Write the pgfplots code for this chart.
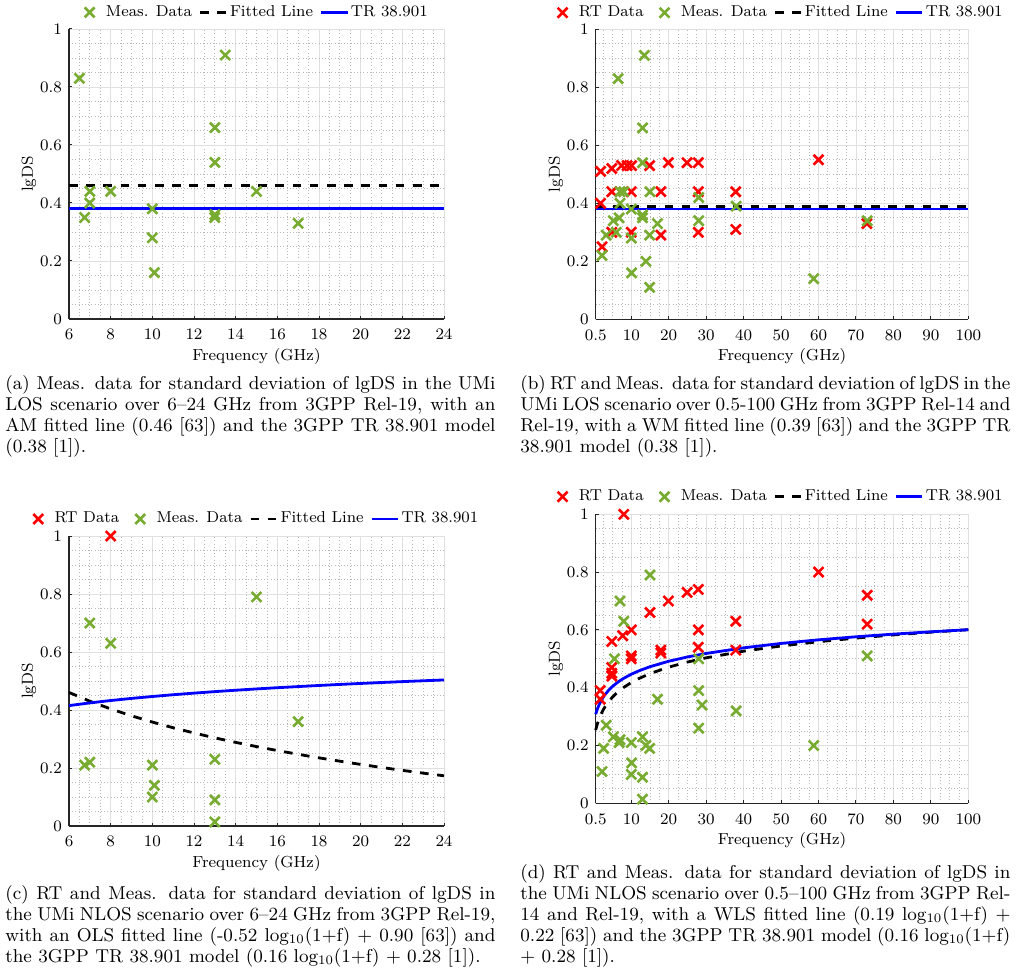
\documentclass[border=0pt]{standalone}
\usepackage{pgfplots}
\pgfplotsset{compat=1.18}

\definecolor{mgreen}{rgb}{0.466,0.674,0.188}
\definecolor{axgray}{rgb}{0.15,0.15,0.15}

\pgfplotsset{
  lgds/.style={
    scale only axis,
    anchor=south west,
    clip=false,
    ymin=0, ymax=1,
    ytick={0,0.2,0.4,0.6,0.8,1},
    minor y tick num=3,
    axis x line*=bottom, axis y line*=left,
    axis line style={axgray, line width=0.7pt, -},
    tick align=inside,
    major tick length=1.5pt,
    minor tick length=0pt,
    tick style={axgray, line width=0.5pt},
    grid=both,
    major grid style={line width=0.4pt, black!12},
    minor grid style={line width=0.4pt, black!28, dash pattern=on 0.4pt off 1.2pt},
    ticklabel style={font=\fontsize{8}{9}\selectfont},
    xticklabel style={yshift=-1.8pt},
    xlabel={Frequency (GHz)},
    ylabel={lgDS},
    every axis x label/.style={at={(axis description cs:0.5,-0.128)}, anchor=center, font=\fontsize{8}{9}\selectfont},
    every axis y label/.style={at={(axis description cs:-0.107,0.5)}, rotate=90, anchor=center, font=\fontsize{8}{9}\selectfont},
    legend style={draw=none, fill=none, legend columns=-1, at={(0.5,1)}, anchor=center,
      font=\fontsize{7.9}{9}\selectfont, inner sep=0pt, outer sep=0pt,
      nodes={inner xsep=1pt, inner ysep=0.5pt},
      /tikz/every even column/.append style={column sep=2.3pt}},
  },
  narrowf/.style={width=187.5pt, height=145pt, xmin=6, xmax=24,
    xtick={6,8,10,12,14,16,18,20,22,24}, minor x tick num=3},
  widef/.style={width=186.3pt, height=145pt, xmin=0.5, xmax=100,
    xtick={0.5,10,20,30,40,50,60,70,80,90,100},
    minor xtick={2.5,5,7.5,12.5,15,17.5,22.5,25,27.5,32.5,35,37.5,42.5,45,47.5,
      52.5,55,57.5,62.5,65,67.5,72.5,75,77.5,82.5,85,87.5,92.5,95,97.5}},
  rtdata/.style={only marks, mark=x, mark size=3.5pt, red, line width=1.3pt,
    legend image code/.code={\path (-6.5pt,0pt) (6.5pt,0pt); \draw[##1] plot coordinates {(0pt,0pt)};}},
  measdata/.style={only marks, mark=x, mark size=3.5pt, mgreen, line width=1.3pt,
    legend image code/.code={\path (-6.5pt,0pt) (6.5pt,0pt); \draw[##1] plot coordinates {(0pt,0pt)};}},
  fitline/.style={no marks, black, line width=1.4pt, dash pattern=on 4.3pt off 4.3pt,
    legend image code/.code={\draw[##1] (0pt,0pt) -- (13.3pt,0pt);}},
  trline/.style={no marks, blue, line width=1.4pt,
    legend image code/.code={\draw[##1] (0pt,0pt) -- (13.3pt,0pt);}},
}
\tikzset{
  capt/.style={anchor=base west, inner sep=0pt, text width=245pt, align=justify,
    font=\fontsize{9.3}{10.5}\selectfont},
}

\begin{document}
\begin{tikzpicture}
\path[use as bounding box] (0pt,0pt) rectangle (510.5pt,488pt);

% (a) UMi LOS, 6-24 GHz
\begin{axis}[lgds, narrowf, at={(34.5pt,328.5pt)},
  legend style={xshift=-2.0pt, yshift=8.3pt}]
\addplot[measdata] coordinates {
  (6.5,0.83) (6.75,0.35) (7,0.44) (7,0.40) (8,0.44) (10,0.38) (10,0.28) (10.1,0.16)
  (13,0.66) (13,0.54) (13,0.36) (13,0.35) (13.5,0.91) (15,0.44) (17,0.33)};
\addlegendentry{Meas. Data}
\addplot[fitline] coordinates {(6,0.46) (24,0.46)};
\addlegendentry{Fitted Line}
\addplot[trline] coordinates {(6,0.38) (24,0.38)};
\addlegendentry{TR 38.901}
\end{axis}

% (b) UMi LOS, 0.5-100 GHz
\begin{axis}[lgds, widef, at={(297.85pt,328.35pt)},
  legend style={xshift=-2.8pt, yshift=8.3pt}]
\addplot[rtdata] coordinates {
  (1.8,0.51) (1.8,0.40) (2.2,0.25) (4.8,0.52) (4.8,0.44) (4.8,0.30) (7.4,0.53)
  (8.9,0.53) (10.1,0.53) (10,0.44) (10,0.30) (14.9,0.53) (17.9,0.44) (17.9,0.29)
  (19.9,0.54) (24.9,0.54) (27.9,0.54) (27.9,0.44) (27.9,0.30) (37.9,0.44) (37.9,0.31)
  (60,0.55) (72.9,0.33)};
\addlegendentry{RT Data}
\addplot[measdata] coordinates {
  (6.5,0.83) (6.75,0.35) (7,0.44) (7,0.40) (8,0.44) (10,0.38) (10,0.28) (10.1,0.16)
  (13,0.66) (13,0.54) (13,0.36) (13,0.35) (13.5,0.91) (15,0.44) (17,0.33)
  (2.2,0.22) (3.3,0.29) (6,0.30) (5.2,0.34) (13.9,0.20) (14.9,0.29) (14.9,0.11)
  (28,0.42) (28,0.34) (38,0.39) (58.7,0.14) (73,0.34)};
\addlegendentry{Meas. Data}
\addplot[fitline] coordinates {(0.5,0.39) (100,0.39)};
\addlegendentry{Fitted Line}
\addplot[trline] coordinates {(0.5,0.38) (100,0.38)};
\addlegendentry{TR 38.901}
\end{axis}

% (c) UMi NLOS, 6-24 GHz
\begin{axis}[lgds, narrowf, at={(34.5pt,75pt)},
  legend style={xshift=-2.2pt, yshift=8.5pt}]
\addplot[rtdata] coordinates {(8,1.0)};
\addlegendentry{RT Data}
\addplot[measdata] coordinates {
  (6.75,0.21) (7,0.22) (7,0.70) (8,0.63) (10,0.21) (10.1,0.14) (10,0.10)
  (13,0.23) (13,0.09) (13,0.014) (15,0.79) (17,0.36)};
\addlegendentry{Meas. Data}
% -0.52 log10(1+f) + 0.90
\addplot[fitline] coordinates {
  (6,0.4605) (7,0.4304) (8,0.4038) (9,0.3800) (10,0.3585) (11,0.3388) (12,0.3208)
  (13,0.3040) (14,0.2884) (15,0.2739) (16,0.2602) (17,0.2473) (18,0.2350) (19,0.2235)
  (20,0.2124) (21,0.2019) (22,0.1919) (23,0.1823) (24,0.1731)};
\addlegendentry{Fitted Line}
% 0.16 log10(1+f) + 0.28
\addplot[trline] coordinates {
  (6,0.4152) (7,0.4245) (8,0.4327) (9,0.4400) (10,0.4466) (11,0.4527) (12,0.4582)
  (13,0.4634) (14,0.4682) (15,0.4727) (16,0.4769) (17,0.4808) (18,0.4846) (19,0.4882)
  (20,0.4916) (21,0.4948) (22,0.4979) (23,0.5008) (24,0.5037)};
\addlegendentry{TR 38.901}
\end{axis}

% (d) UMi NLOS, 0.5-100 GHz
\begin{axis}[lgds, widef, height=144.5pt, at={(297.85pt,86.35pt)},
  legend style={xshift=-2.8pt, yshift=8.8pt}]
\addplot[rtdata] coordinates {
  (1.7,0.39) (1.7,0.36) (4.8,0.56) (4.8,0.47) (4.8,0.45) (4.8,0.44) (7.7,0.58)
  (8,1.0) (10,0.60) (10,0.51) (10,0.50) (15,0.66) (17.9,0.53) (17.9,0.52)
  (19.9,0.70) (24.9,0.73) (27.9,0.74) (27.9,0.60) (27.9,0.54) (37.9,0.63) (37.9,0.53)
  (60,0.80) (73,0.72) (73,0.62)};
\addlegendentry{RT Data}
\addplot[measdata] coordinates {
  (6.75,0.21) (7,0.22) (7,0.70) (8,0.63) (10,0.21) (10.1,0.14) (10,0.10)
  (13,0.23) (13,0.09) (13,0.014) (15,0.79) (17,0.36)
  (2.2,0.11) (2.6,0.19) (3.3,0.27) (5.2,0.23) (5.5,0.50) (13.9,0.20) (14.9,0.19)
  (28,0.50) (28,0.39) (28.9,0.34) (28,0.26) (38,0.32) (58.7,0.20) (73,0.51)};
\addlegendentry{Meas. Data}
% 0.19 log10(1+f) + 0.22
\addplot[fitline] coordinates {
  (0.5,0.2535) (0.75,0.2662) (1,0.2772) (1.5,0.2956) (2,0.3107) (2.5,0.3234)
  (3,0.3344) (4,0.3528) (5,0.3678) (6,0.3806) (7,0.3916) (8,0.4013) (10,0.4179)
  (12,0.4316) (15,0.4488) (20,0.4712) (25,0.4888) (30,0.5034) (40,0.5264)
  (50,0.5444) (60,0.5592) (70,0.5717) (80,0.5826) (90,0.5922) (100,0.6008)};
\addlegendentry{Fitted Line}
% 0.16 log10(1+f) + 0.28
\addplot[trline] coordinates {
  (0.5,0.3082) (0.75,0.3189) (1,0.3282) (1.5,0.3437) (2,0.3563) (2.5,0.3671)
  (3,0.3763) (4,0.3918) (5,0.4045) (6,0.4152) (7,0.4245) (8,0.4327) (10,0.4466)
  (12,0.4582) (15,0.4727) (20,0.4916) (25,0.5064) (30,0.5186) (40,0.5380)
  (50,0.5532) (60,0.5657) (70,0.5762) (80,0.5854) (90,0.5934) (100,0.6007)};
\addlegendentry{TR 38.901}
\end{axis}

% Sub-captions
\node[capt] at (2.5pt,293.5pt) {(a) Meas. data for standard deviation of lgDS in the UMi\linebreak
LOS scenario over 6--24 GHz from 3GPP Rel-19, with an\linebreak
AM fitted line (0.46 [63]) and the 3GPP TR 38.901 model\linebreak
(0.38 [1]).};
\node[capt] at (260pt,293.5pt) {(b) RT and Meas. data for standard deviation of lgDS in the\linebreak
UMi LOS scenario over 0.5-100 GHz from 3GPP Rel-14 and\linebreak
Rel-19, with a WM fitted line (0.39 [63]) and the 3GPP TR\linebreak
38.901 model (0.38 [1]).};
\node[capt] at (2.5pt,38.5pt) {(c) RT and Meas. data for standard deviation of lgDS in\linebreak
the UMi NLOS scenario over 6--24 GHz from 3GPP Rel-19,\linebreak
with an OLS fitted line (-0.52 log\textsubscript{10}(1+f) + 0.90 [63]) and\linebreak
the 3GPP TR 38.901 model (0.16 log\textsubscript{10}(1+f) + 0.28 [1]).};
\node[capt] at (260pt,49pt) {(d) RT and Meas. data for standard deviation of lgDS in\linebreak
the UMi NLOS scenario over 0.5--100 GHz from 3GPP Rel-\linebreak
14 and Rel-19, with a WLS fitted line (0.19 log\textsubscript{10}(1+f) +\linebreak
0.22 [63]) and the 3GPP TR 38.901 model (0.16 log\textsubscript{10}(1+f)\linebreak
+ 0.28 [1]).};
\end{tikzpicture}
\end{document}
